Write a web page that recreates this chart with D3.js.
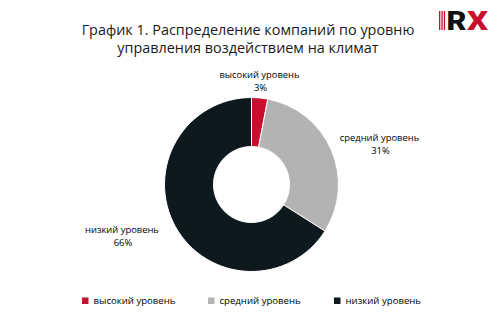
<!DOCTYPE html>
<html>
<head>
<meta charset="utf-8">
<script src="https://cdn.jsdelivr.net/npm/d3@7"></script>
<style>
  html, body { margin: 0; padding: 0; background: #fff; }
  svg { display: block; font-family: "Open Sans", sans-serif; }
</style>
</head>
<body>
<svg id="chart" width="500" height="325"></svg>
<script>
// Distribution of companies by level of climate impact management
const categories = ["высокий уровень", "средний уровень", "низкий уровень"];
const shares = [3, 31, 66];
const colors = ["#c8102e", "#b3b3b3", "#0e191e"];
const titleLines = ["График 1. Распределение компаний по уровню", "управления воздействием на климат"];

const svg = d3.select("#chart");
const cx = 251.5, cy = 184.5, outerR = 87, innerR = 38;

// Title
svg.append("text")
  .attr("text-anchor", "middle")
  .attr("font-size", 14.4)
  .attr("fill", "#1a1a1a")
  .selectAll("tspan").data(titleLines).join("tspan")
  .attr("x", 248).attr("y", (d, i) => 35 + i * 18)
  .text(d => d);

// Logo
const logo = svg.append("g").attr("transform", "translate(439,11)");
[0, 2.4, 4.8].forEach(x => logo.append("rect").attr("x", x).attr("y", 0).attr("width", 1.3).attr("height", 19).attr("fill", "#c8102e"));
logo.append("text").attr("x", 7.5).attr("y", 19).attr("font-size", 26).attr("font-weight", 900)
  .attr("font-family", "Roboto, sans-serif").attr("fill", "#111")
  .attr("textLength", 20).attr("lengthAdjust", "spacingAndGlyphs").text("R");
logo.append("text").attr("x", 28).attr("y", 19).attr("font-size", 26).attr("font-weight", 900)
  .attr("font-family", "Roboto, sans-serif").attr("fill", "#c8102e")
  .attr("textLength", 21).attr("lengthAdjust", "spacingAndGlyphs").text("X");

// Donut
const data = categories.map((c, i) => ({ name: c, value: shares[i], color: colors[i] }));
const pie = d3.pie().value(d => d.value).sort(null);
const arc = d3.arc().innerRadius(innerR).outerRadius(outerR);
const g = svg.append("g").attr("transform", `translate(${cx},${cy})`);
g.selectAll("path").data(pie(data)).join("path")
  .attr("d", arc)
  .attr("fill", d => d.data.color)
  .attr("stroke", "#fff")
  .attr("stroke-width", 1);

// Slice labels: name on the first line, share on the second
const labelPos = [[259.5, 78], [379.5, 140.8], [122, 232.8]];
data.forEach((d, i) => {
  const t = svg.append("text")
    .attr("text-anchor", "middle")
    .attr("font-size", 9.4)
    .attr("fill", "#000");
  t.append("tspan").attr("x", labelPos[i][0]).attr("y", labelPos[i][1]).text(d.name);
  t.append("tspan").attr("x", labelPos[i][0] + 1).attr("y", labelPos[i][1] + 12.9).text(d.value + "%");
});

// Legend
const legendX = [82, 208, 334];
const legend = svg.append("g");
data.forEach((d, i) => {
  legend.append("rect").attr("x", legendX[i]).attr("y", 297.5).attr("width", 6.5).attr("height", 6.5).attr("fill", d.color);
  legend.append("text").attr("x", legendX[i] + 11.5).attr("y", 303.8)
    .attr("font-size", 9.6).attr("fill", "#000").text(d.name);
});
</script>
</body>
</html>
